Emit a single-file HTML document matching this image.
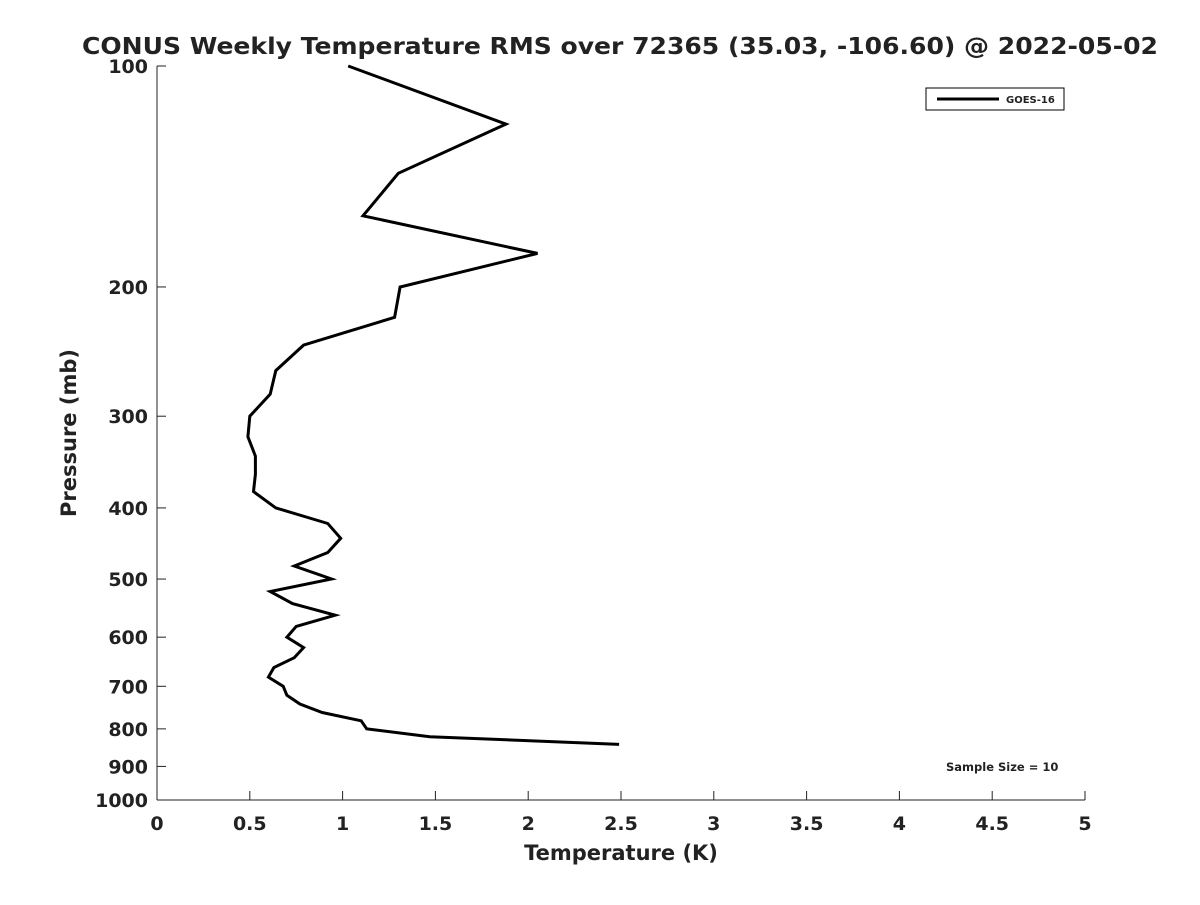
<!DOCTYPE html>
<html><head><meta charset="utf-8"><style>
body{margin:0;background:#fff}
svg text{font-family:"DejaVu Sans","Liberation Sans",sans-serif;font-weight:bold;fill:#222}
</style></head><body>
<svg id="chart" width="1200" height="900" xmlns="http://www.w3.org/2000/svg">
<rect width="1200" height="900" fill="#fff"/>
<text x="620" y="54" text-anchor="middle" font-size="23" textLength="1076" lengthAdjust="spacingAndGlyphs">CONUS Weekly Temperature RMS over 72365 (35.03, -106.60) @ 2022-05-02</text>
<g id="axes"></g>
<text x="621" y="860" text-anchor="middle" font-size="21">Temperature (K)</text>
<text transform="translate(76,433) rotate(-90)" text-anchor="middle" font-size="21">Pressure (mb)</text>
<g>
<rect x="926" y="88" width="138" height="22" fill="#fff" stroke="#000" stroke-width="1"/>
<line x1="937" y1="99" x2="999" y2="99" stroke="#000" stroke-width="3"/>
<text x="1006" y="103" font-size="10">GOES-16</text>
</g>
<text x="946" y="771" font-size="11.5">Sample Size = 10</text>
</svg>
<script>
const pressures=[100,120,140,160,180,200,220,240,260,280,300,320,340,360,380,400,420,440,460,480,500,520,540,560,580,600,620,640,660,680,700,720,740,760,780,800,820,840];
const rmsValues=[1.03,1.88,1.30,1.11,2.05,1.31,1.28,0.79,0.64,0.61,0.50,0.49,0.53,0.53,0.52,0.64,0.92,0.99,0.92,0.74,0.94,0.61,0.73,0.96,0.75,0.70,0.79,0.74,0.63,0.60,0.68,0.70,0.77,0.89,1.10,1.13,1.47,2.49];
const xTicks=[0,0.5,1,1.5,2,2.5,3,3.5,4,4.5,5];
const yTicks=[100,200,300,400,500,600,700,800,900,1000];
const X0=157,X1=1085,Y0=66,Y1=800;
const xs=v=>X0+(v/5)*(X1-X0);
const ys=p=>Y0+Math.log10(p/100)*(Y1-Y0);
const NS='http://www.w3.org/2000/svg';
const g=document.getElementById('axes');
function mk(t,a){const e=document.createElementNS(NS,t);for(const k in a)e.setAttribute(k,a[k]);g.appendChild(e);return e;}
let e=mk('line',{x1:X0,y1:Y0,x2:X0,y2:Y1,stroke:'#222','stroke-width':1});


e=mk('line',{x1:X0,y1:Y1,x2:X1,y2:Y1,stroke:'#222','stroke-width':1});


xTicks.forEach(v=>{
 mk('line',{x1:xs(v),y1:Y1,x2:xs(v),y2:Y1-9,stroke:'#222'});
 const t=mk('text',{x:xs(v),y:Y1+30,'text-anchor':'middle','font-size':19});
 t.textContent=v;
 
 
});
yTicks.forEach(p=>{
 mk('line',{x1:X0,y1:ys(p),x2:X0+9,y2:ys(p),stroke:'#222'});
 const t=mk('text',{x:X0-9,y:ys(p)+7,'text-anchor':'end','font-size':19});
 t.textContent=p;
 
 
});
const d=pressures.map((p,i)=>(i?'L':'M')+xs(rmsValues[i]).toFixed(1)+' '+ys(p).toFixed(1)).join(' ');
e=mk('path',{d:d,fill:'none',stroke:'#000','stroke-width':3,'stroke-linejoin':'miter'});


</script>
</body></html>
